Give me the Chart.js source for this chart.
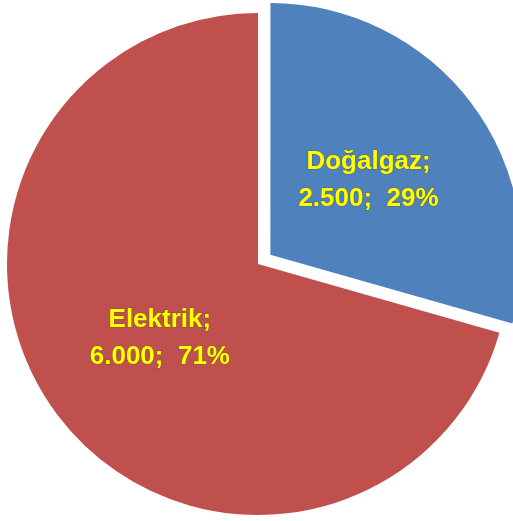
<!DOCTYPE html>
<html>
<head>
<meta charset="utf-8">
<script src="https://cdn.jsdelivr.net/npm/chart.js@4/dist/chart.umd.min.js"></script>
<style>
  html, body { margin: 0; padding: 0; background: #ffffff; }
  #wrap { width: 513px; height: 521px; position: relative; }
</style>
</head>
<body>
<div id="wrap"><canvas id="c" width="513" height="521"></canvas></div>
<script>
// Energy consumption split
const categories = ['Doğalgaz', 'Elektrik'];
const values = [2500, 6000];
const sliceColors = ['#4F81BD', '#C0504D'];
const sliceOffsets = [62, 0];

// 6000 -> "6.000"
function fmtThousands(n) {
  return String(Math.round(n)).replace(/\B(?=(\d{3})+(?!\d))/g, '.');
}

const labelPlugin = {
  id: 'sliceLabels',
  afterDatasetsDraw(chart) {
    const ctx = chart.ctx;
    const meta = chart.getDatasetMeta(0);
    const data = chart.data.datasets[0].data;
    const total = data.reduce((a, b) => a + b, 0);
    ctx.save();
    ctx.font = 'bold 26px "Liberation Sans", Arial, sans-serif';
    ctx.textAlign = 'center';
    ctx.textBaseline = 'middle';
    meta.data.forEach((arc, i) => {
      const p = arc.getProps(['x', 'y', 'startAngle', 'endAngle', 'outerRadius']);
      const mid = (p.startAngle + p.endAngle) / 2;
      const shift = (arc.options.offset || 0) / 4;
      const r = p.outerRadius * 0.49 + shift;
      const cx = p.x + Math.cos(mid) * r;
      const cy = p.y + Math.sin(mid) * r;
      const pct = Math.round(data[i] / total * 100);
      const lines = [chart.data.labels[i] + ';', fmtThousands(data[i]) + ';  ' + pct + '%'];
      const lh = 37;
      lines.forEach((t, k) => {
        const y = cy + (k - (lines.length - 1) / 2) * lh;
        ctx.lineWidth = 1.2;
        ctx.strokeStyle = 'rgba(90,90,30,0.55)';
        ctx.strokeText(t, cx, y);
        ctx.fillStyle = '#FFFF00';
        ctx.fillText(t, cx, y);
      });
    });
    ctx.restore();
  }
};

new Chart(document.getElementById('c'), {
  type: 'pie',
  data: {
    labels: categories,
    datasets: [{
      data: values,
      backgroundColor: sliceColors,
      borderWidth: 0,
      offset: sliceOffsets,
      hoverOffset: 0
    }]
  },
  options: {
    responsive: false,
    animation: false,
    radius: 251,
    layout: { padding: { left: 3, top: 7, right: 0, bottom: 0 } },
    plugins: {
      legend: { display: false },
      tooltip: { enabled: false }
    }
  },
  plugins: [labelPlugin]
});
</script>
</body>
</html>
